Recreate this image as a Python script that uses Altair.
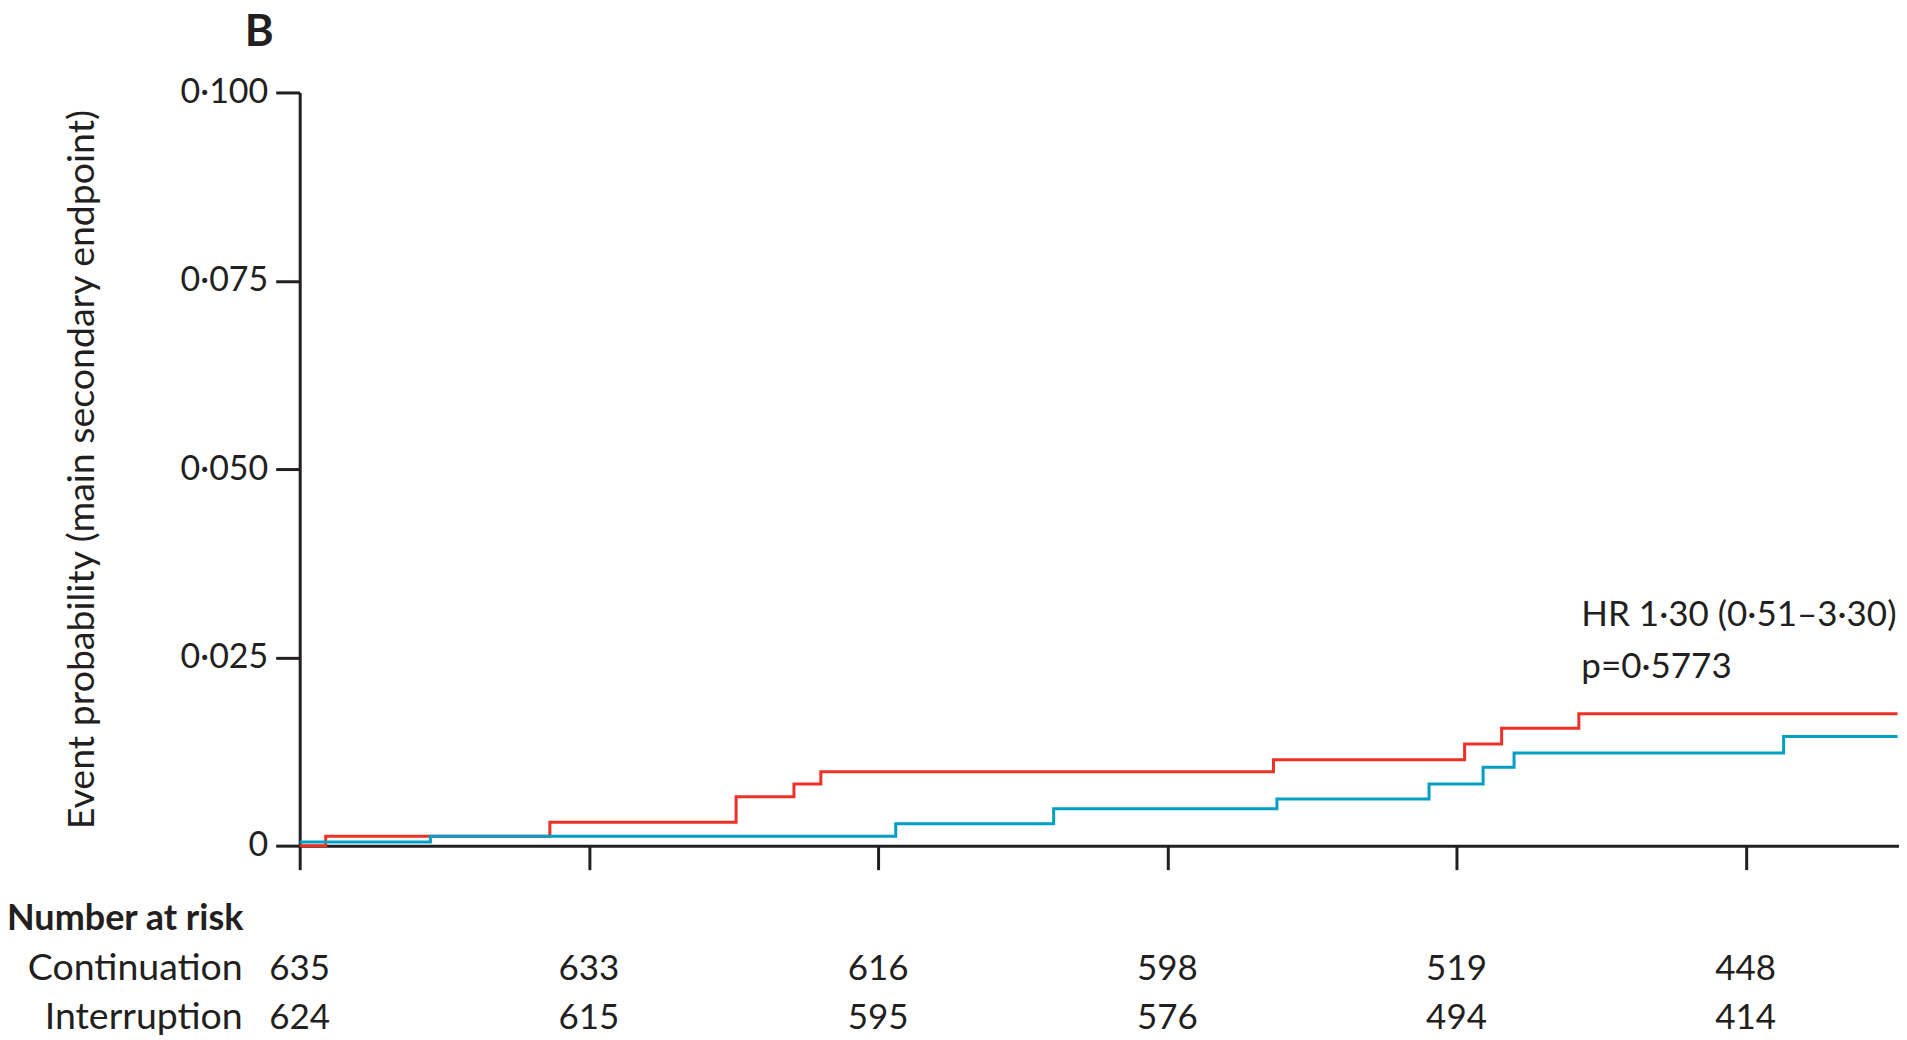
import altair as alt
import pandas as pd

# ---- data ----
# red curve: step times (years) and cumulative event probability after each step
red_time = [0, 0.09, 0.865, 1.509, 1.709, 1.802, 3.367, 4.028, 4.156, 4.423, 5.525]
red_prob = [0, 0.00125, 0.0031, 0.0065, 0.0082, 0.0098, 0.0114, 0.0135, 0.0156, 0.0175, 0.0175]
# blue curve
blue_time = [0, 0.452, 2.061, 2.607, 3.379, 3.905, 4.092, 4.199, 5.131, 5.525]
blue_prob = [0.0005, 0.00125, 0.0029, 0.0049, 0.0062, 0.0082, 0.0104, 0.0123, 0.0145, 0.0145]

risk_times = [0, 1, 2, 3, 4, 5]
risk_continuation = [635, 633, 616, 598, 519, 448]
risk_interruption = [624, 615, 595, 576, 494, 414]
y_ticks = [0, 0.025, 0.05, 0.075, 0.1]

hr_lines = ["HR 1·30 (0·51–3·30)", "p=0·5773"]
panel_label = ["B"]
risk_header = ["Number at risk"]
group_names = ["Continuation", "Interruption"]

# ---- style ----
INK = "#231f20"
RED = "#ee3124"
BLUE = "#009fc5"
FONT = "Lato"

red_df = pd.DataFrame({"t": red_time, "p": red_prob})
blue_df = pd.DataFrame({"t": blue_time, "p": blue_prob})
cont_df = pd.DataFrame({"t": risk_times, "n": risk_continuation})
int_df = pd.DataFrame({"t": risk_times, "n": risk_interruption})

xs = alt.Scale(domain=[0, 5.53], nice=False, zero=False)
ys = alt.Scale(domain=[0, 0.1], nice=False)

x_axis = alt.Axis(values=risk_times, labels=False, title=None, grid=False,
                  domainWidth=3, domainColor=INK, tickColor=INK, tickWidth=3,
                  tickSize=24)
y_axis = alt.Axis(values=y_ticks,
                  labelExpr="datum.value == 0 ? '0' : replace(format(datum.value, '.3f'), '.', '·')",
                  title="Event probability (main secondary endpoint)",
                  grid=False, domainWidth=3, domainColor=INK, tickColor=INK,
                  tickWidth=3, tickSize=24, labelPadding=8, labelFontSize=34,
                  labelColor=INK, labelFont=FONT,
                  titleFont=FONT, titleFontSize=37.5, titleFontWeight="normal",
                  titleColor=INK, titleAngle=-90, titleX=-217, titleY=377,
                  titleAlign="center", titleBaseline="middle")

X = alt.X("t:Q", scale=xs, axis=x_axis)
Y = alt.Y("p:Q", scale=ys, axis=y_axis)

red_line = alt.Chart(red_df).mark_line(
    interpolate="step-after", color=RED, strokeWidth=3).encode(x=X, y=Y)
blue_line = alt.Chart(blue_df).mark_line(
    interpolate="step-after", color=BLUE, strokeWidth=3).encode(x=X, y=Y)

txt = dict(font=FONT, color=INK, baseline="alphabetic")

cont_nums = alt.Chart(cont_df).mark_text(fontSize=35, align="center", **txt).encode(
    x=X, y=alt.value(888), text="n:Q")
int_nums = alt.Chart(int_df).mark_text(fontSize=35, align="center", **txt).encode(
    x=X, y=alt.value(938), text="n:Q")

hr1 = alt.Chart(pd.DataFrame({"s": [hr_lines[0]]})).mark_text(
    fontSize=35, align="left", **txt).encode(x=alt.value(1283), y=alt.value(534), text="s:N")
hr2 = alt.Chart(pd.DataFrame({"s": [hr_lines[1]]})).mark_text(
    fontSize=35, align="left", **txt).encode(x=alt.value(1283), y=alt.value(586), text="s:N")

b_label = alt.Chart(pd.DataFrame({"s": panel_label})).mark_text(
    fontSize=44, fontWeight="bold", align="left", **txt).encode(
    x=alt.value(-55), y=alt.value(-47), text="s:N")
header = alt.Chart(pd.DataFrame({"s": risk_header})).mark_text(
    fontSize=36, fontWeight="bold", align="left", **txt).encode(
    x=alt.value(-293), y=alt.value(838), text="s:N")
g1 = alt.Chart(pd.DataFrame({"s": [group_names[0]]})).mark_text(
    fontSize=37.5, align="right", **txt).encode(x=alt.value(-57), y=alt.value(888), text="s:N")
g2 = alt.Chart(pd.DataFrame({"s": [group_names[1]]})).mark_text(
    fontSize=37.5, align="right", **txt).encode(x=alt.value(-57), y=alt.value(938), text="s:N")

chart = alt.layer(
    red_line, blue_line, cont_nums, int_nums, hr1, hr2, b_label, header, g1, g2
).properties(
    width=1601, height=754,
    padding={"left": 292, "top": 84, "right": 0, "bottom": 190},
    autosize=alt.AutoSizeParams(type="none"),
).configure_view(stroke=None)

chart.save("out.html", embed_options={"renderer": "svg", "actions": False})
